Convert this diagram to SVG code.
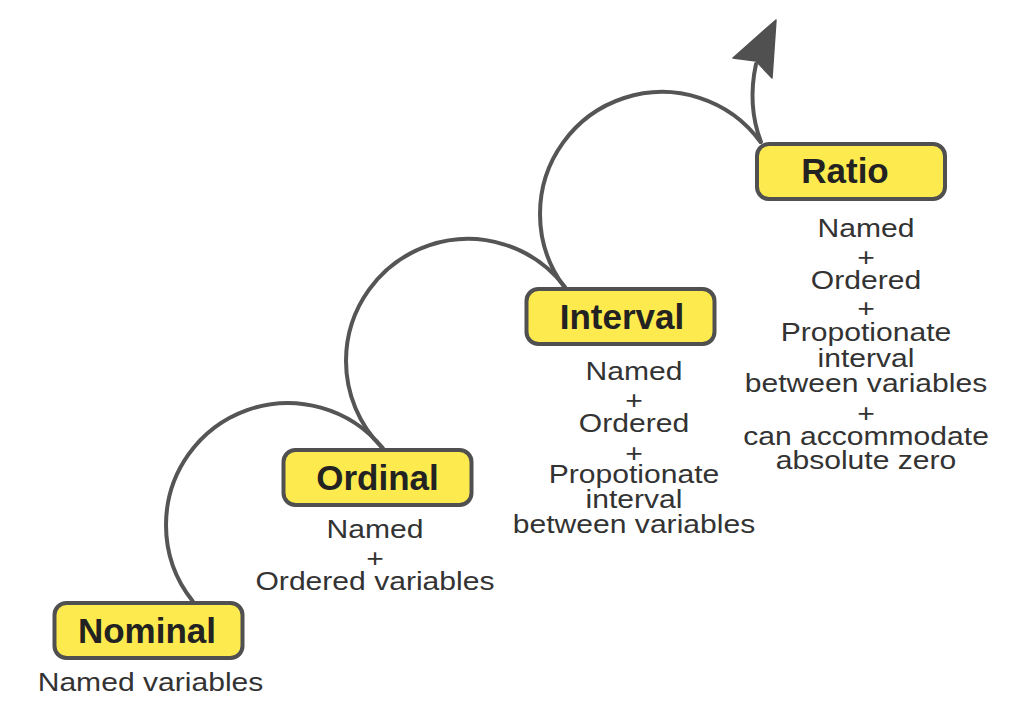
<svg xmlns="http://www.w3.org/2000/svg" width="1032" height="726" viewBox="0 0 1032 726">
<style>
.box{fill:#fcea4e;stroke:#505050;stroke-width:4}
.lbl{font-family:"Liberation Sans",Arial,sans-serif;font-weight:bold;font-size:35px;fill:#222;text-anchor:middle}
.txt{font-family:"Liberation Sans",Arial,sans-serif;font-size:25.5px;fill:#333;text-anchor:middle}
.arc{fill:none;stroke:#555;stroke-width:4;stroke-linecap:round}
</style>
<rect width="1032" height="726" fill="#fff"/>
<g id="connectors">
<path class="arc" d="M192.6,601 A122,122 0 0 1 166,525 A122,122 0 0 1 382.6,448"/>
<path class="arc" d="M382.5,448 A122,122 0 0 1 346,361 A122,122 0 0 1 565,287"/>
<path class="arc" d="M564.3,287 A122,122 0 0 1 540,214 A122,122 0 0 1 760.5,142"/>
<path class="arc" d="M761,142 C751,116 750,92 756,64"/>
<polygon points="776,20 733,58 756,61 772,78" fill="#505050" stroke="#505050" stroke-width="1.5" stroke-linejoin="round"/>
</g>
<g id="nominal">
<rect class="box" x="54.5" y="603" width="188" height="55" rx="12"/>
<text class="lbl" x="147" y="643">Nominal</text>
<g transform="translate(150.5 0) scale(1.18 1)"><text class="txt" x="0" y="691.5">Named variables</text></g>
</g>
<g id="ordinal">
<rect class="box" x="283.5" y="450" width="188" height="55" rx="12"/>
<text class="lbl" x="377.5" y="490">Ordinal</text>
<g transform="translate(375 0) scale(1.18 1)">
<text class="txt" x="0" y="538">Named</text>
<text class="txt" x="0" y="567">+</text>
<text class="txt" x="0" y="590">Ordered variables</text>
</g>
</g>
<g id="interval">
<rect class="box" x="526.5" y="289" width="188" height="55" rx="12"/>
<text class="lbl" x="622" y="329">Interval</text>
<g transform="translate(634 0) scale(1.18 1)">
<text class="txt" x="0" y="380">Named</text>
<text class="txt" x="0" y="409">+</text>
<text class="txt" x="0" y="432">Ordered</text>
<text class="txt" x="0" y="462">+</text>
<text class="txt" x="0" y="483">Propotionate</text>
<text class="txt" x="0" y="508">interval</text>
<text class="txt" x="0" y="533">between variables</text>
</g>
</g>
<g id="ratio">
<rect class="box" x="757" y="144" width="188" height="55" rx="12"/>
<text class="lbl" x="845" y="183">Ratio</text>
<g transform="translate(866 0) scale(1.18 1)">
<text class="txt" x="0" y="237">Named</text>
<text class="txt" x="0" y="266">+</text>
<text class="txt" x="0" y="289">Ordered</text>
<text class="txt" x="0" y="317">+</text>
<text class="txt" x="0" y="341">Propotionate</text>
<text class="txt" x="0" y="367">interval</text>
<text class="txt" x="0" y="392">between variables</text>
<text class="txt" x="0" y="422">+</text>
<text class="txt" x="0" y="445">can accommodate</text>
<text class="txt" x="0" y="469">absolute zero</text>
</g>
</g>
</svg>
